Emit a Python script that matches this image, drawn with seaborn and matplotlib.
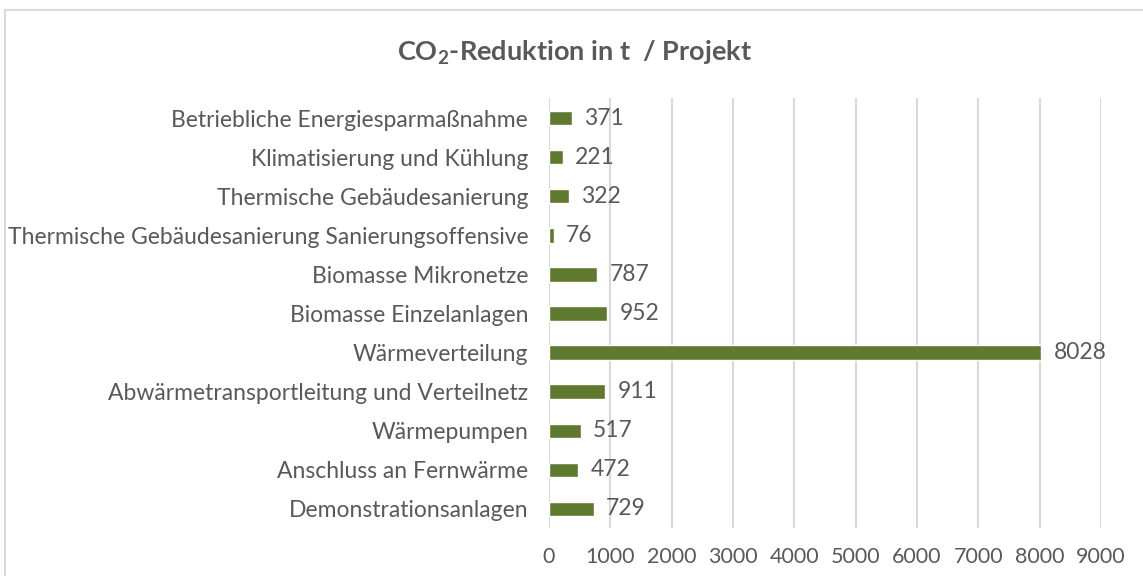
import matplotlib
matplotlib.use("Agg")
import pandas as pd
import matplotlib.pyplot as plt
import seaborn as sns
from matplotlib.patches import Rectangle

# Daten
kategorien = [
    "Betriebliche Energiesparmaßnahme",
    "Klimatisierung und Kühlung",
    "Thermische Gebäudesanierung",
    "Thermische Gebäudesanierung Sanierungsoffensive",
    "Biomasse Mikronetze",
    "Biomasse Einzelanlagen",
    "Wärmeverteilung",
    "Abwärmetransportleitung und Verteilnetz",
    "Wärmepumpen",
    "Anschluss an Fernwärme",
    "Demonstrationsanlagen",
]
reduktion = [371, 221, 322, 76, 787, 952, 8028, 911, 517, 472, 729]
x_ticks = [0, 1000, 2000, 3000, 4000, 5000, 6000, 7000, 8000, 9000]

df = pd.DataFrame({"Kategorie": kategorien, "Reduktion": reduktion})

sns.set_theme(style="white")
plt.rcParams["font.family"] = ["Lato", "DejaVu Sans"]
plt.rcParams["mathtext.fontset"] = "custom"
plt.rcParams["mathtext.bf"] = "Lato:bold"
plt.rcParams["mathtext.rm"] = "Lato"

grau = "#595959"
gruen = "#5f7a2f"

fig = plt.figure(figsize=(11.43, 5.76), dpi=100)
ax = fig.add_axes([0.4803, 0.0825, 0.4830, 0.7465])

sns.barplot(data=df, x="Reduktion", y="Kategorie", color=gruen,
            width=0.37, saturation=1, ax=ax, zorder=3)

ax.set_xlim(0, 9000)
ax.set_xticks(x_ticks)
ax.grid(axis="x", color="#d9d9d9", linewidth=1.5, zorder=0)
ax.set_axisbelow(True)
for s in ax.spines.values():
    s.set_visible(False)
ax.tick_params(axis="y", length=0, labelsize=16.5, colors=grau, pad=15)
ax.tick_params(axis="x", length=0, labelsize=15.5, colors=grau, pad=13)
ax.set_xlabel("")
ax.set_ylabel("")

# Datenbeschriftungen
for c in ax.containers:
    ax.bar_label(c, labels=[str(v) for v in reduktion], padding=9,
                 fontsize=16.5, color=grau)

fig.text(0.503, 0.908, r"CO$_\mathbf{2}$-Reduktion in t  / Projekt",
         ha="center", va="center", fontsize=19.5, fontweight="bold", color=grau)

# Rahmen
fig.patches.append(Rectangle((5 / 1143, -0.05), 1.2, 1 - 9.5 / 576 + 0.05,
                             transform=fig.transFigure, fill=False,
                             edgecolor="#d9d9d9", linewidth=1.5))

fig.savefig("out.png", dpi=100)
